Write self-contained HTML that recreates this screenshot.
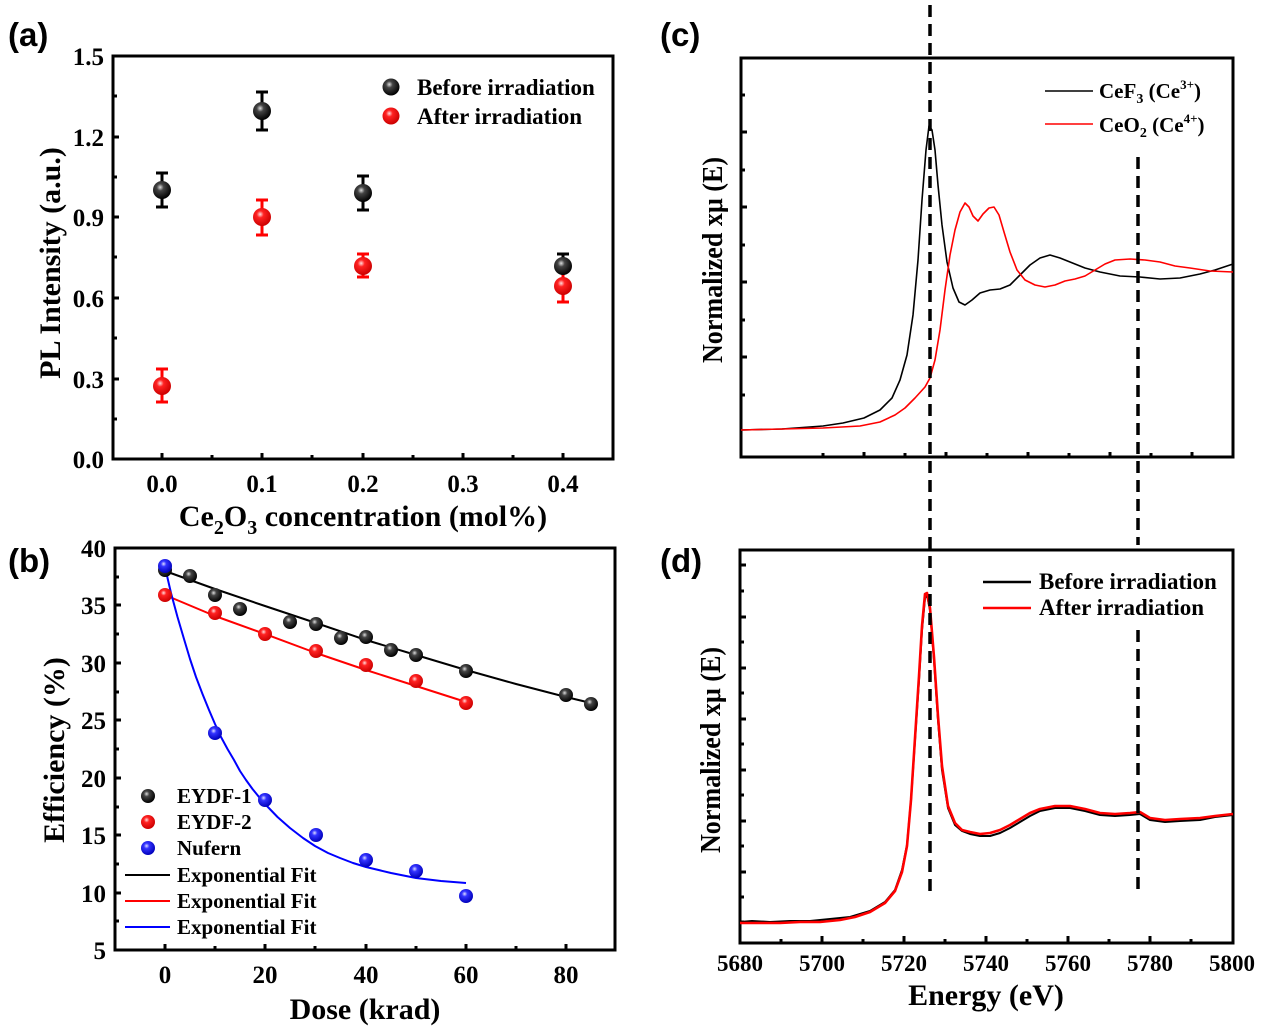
<!DOCTYPE html>
<html><head><meta charset="utf-8"><style>
html,body{margin:0;padding:0;background:#fff;}
svg{display:block;font-family:"Liberation Serif",serif;font-weight:bold;}
.pl{font-family:"Liberation Sans",sans-serif;font-size:33px;font-weight:bold;}
.tk{font-size:25px;}
.tt{font-size:30px;}
.lg{font-size:23px;}
.lgb{font-size:21px;}
</style></head><body>
<svg width="1270" height="1029" viewBox="0 0 1270 1029" xmlns="http://www.w3.org/2000/svg">
<defs>
<radialGradient id="gk" cx="0.4" cy="0.35" r="0.65"><stop offset="0" stop-color="#ddd"/><stop offset="0.3" stop-color="#444"/><stop offset="1" stop-color="#000"/></radialGradient>
<radialGradient id="gr" cx="0.4" cy="0.35" r="0.65"><stop offset="0" stop-color="#fdd"/><stop offset="0.3" stop-color="#f22"/><stop offset="1" stop-color="#c00"/></radialGradient>
<radialGradient id="gb" cx="0.4" cy="0.35" r="0.65"><stop offset="0" stop-color="#ddf"/><stop offset="0.3" stop-color="#33f"/><stop offset="1" stop-color="#00b"/></radialGradient>
</defs>

<text class="pl" x="8" y="46">(a)</text>
<text class="pl" x="8" y="572">(b)</text>
<text class="pl" x="660" y="46">(c)</text>
<text class="pl" x="660" y="572">(d)</text>

<!-- ===== Panel (a) ===== -->
<g stroke="#000" stroke-width="3" fill="none">
<rect x="113" y="56" width="500" height="403"/>
<path d="M113 56h6M113 137h6M113 217h6M113 298h6M113 379h6M113 459h6 M113 96h4M113 177h4M113 257h4M113 338h4M113 419h4"/>
<path d="M162 459v-6M262 459v-6M363 459v-6M463 459v-6M563 459v-6 M212 459v-4M312 459v-4M413 459v-4M513 459v-4"/>
</g>
<g class="tk" text-anchor="end">
<text x="104" y="65">1.5</text><text x="104" y="146">1.2</text><text x="104" y="226">0.9</text><text x="104" y="307">0.6</text><text x="104" y="388">0.3</text><text x="104" y="468">0.0</text>
</g>
<g class="tk" text-anchor="middle">
<text x="162" y="492">0.0</text><text x="262" y="492">0.1</text><text x="363" y="492">0.2</text><text x="463" y="492">0.3</text><text x="563" y="492">0.4</text>
</g>
<text class="tt" x="363" y="526" text-anchor="middle">Ce<tspan font-size="20" dy="8">2</tspan><tspan dy="-8">O</tspan><tspan font-size="20" dy="8">3</tspan><tspan dy="-8"> concentration (mol%)</tspan></text>
<text class="tt" transform="translate(60 263) rotate(-90)" text-anchor="middle">PL Intensity (a.u.)</text>
<g stroke="#000" stroke-width="3">
<path d="M162 173v34M156 173h12M156 207h12"/>
<path d="M262 92v38M256 92h12M256 130h12"/>
<path d="M363 176v34M357 176h12M357 210h12"/>
<path d="M563 254v22M557 254h12"/>
</g>
<g stroke="#f00" stroke-width="3">
<path d="M162 369v33M156 369h12M156 402h12"/>
<path d="M262 200v35M256 200h12M256 235h12"/>
<path d="M363 254v23M357 254h12M357 277h12"/>
<path d="M563 272v30M557 302h12"/>
</g>
<g>
<circle cx="162" cy="190" r="9" fill="url(#gk)"/>
<circle cx="262" cy="111" r="9" fill="url(#gk)"/>
<circle cx="363" cy="193" r="9" fill="url(#gk)"/>
<circle cx="563" cy="266" r="9" fill="url(#gk)"/>
<circle cx="162" cy="386" r="9" fill="url(#gr)"/>
<circle cx="262" cy="217" r="9" fill="url(#gr)"/>
<circle cx="363" cy="266" r="9" fill="url(#gr)"/>
<circle cx="563" cy="286" r="9" fill="url(#gr)"/>
<circle cx="391" cy="87" r="8.5" fill="url(#gk)"/>
<circle cx="391" cy="116" r="8.5" fill="url(#gr)"/>
</g>
<text class="lg" x="417" y="95">Before irradiation</text>
<text class="lg" x="417" y="124">After irradiation</text>

<!-- ===== Panel (b) ===== -->
<g stroke="#000" stroke-width="3" fill="none">
<rect x="115" y="548" width="500" height="402"/>
<path d="M115 548h6M115 605h6M115 663h6M115 720h6M115 778h6M115 835h6M115 893h6M115 950h6 M115 577h4M115 634h4M115 692h4M115 749h4M115 807h4M115 864h4M115 921h4"/>
<path d="M165 950v-6M265 950v-6M366 950v-6M466 950v-6M566 950v-6 M215 950v-4M315 950v-4M416 950v-4M516 950v-4"/>
</g>
<g class="tk" text-anchor="end">
<text x="106" y="557">40</text><text x="106" y="614">35</text><text x="106" y="672">30</text><text x="106" y="729">25</text><text x="106" y="787">20</text><text x="106" y="844">15</text><text x="106" y="902">10</text><text x="106" y="959">5</text>
</g>
<g class="tk" text-anchor="middle">
<text x="165" y="983">0</text><text x="265" y="983">20</text><text x="366" y="983">40</text><text x="466" y="983">60</text><text x="566" y="983">80</text>
</g>
<text class="tt" x="365" y="1019" text-anchor="middle">Dose (krad)</text>
<text class="tt" transform="translate(64 750) rotate(-90)" text-anchor="middle">Efficiency (%)</text>
<g fill="none" stroke-width="2" stroke-linejoin="round">
<polyline stroke="#000" points="165,571 215,589 265,606 316,623 366,640 416,655 466,670 516,684 566,697 591,703"/>
<polyline stroke="#f00" points="165,595 215,616 265,634 316,653 366,670 416,686 466,702"/>
<polyline stroke="#00f" points="165,567 171,593 177.5,617 184,639 190,659 196,677 202.5,694 209,710 215,724 221,737 227.5,749 234,760 240,771 246,780 252.5,789 259,797 265,804 277.5,817 290,828 303,838 315,846 328,853 340,858 353,863 366,867 391,873 416,878 441,881 466,883"/>
</g>
<g>
<circle cx="165" cy="570" r="7" fill="url(#gk)"/><circle cx="190" cy="576" r="7" fill="url(#gk)"/><circle cx="215" cy="595" r="7" fill="url(#gk)"/><circle cx="240" cy="609" r="7" fill="url(#gk)"/><circle cx="290" cy="622" r="7" fill="url(#gk)"/><circle cx="316" cy="624" r="7" fill="url(#gk)"/><circle cx="341" cy="638" r="7" fill="url(#gk)"/><circle cx="366" cy="637" r="7" fill="url(#gk)"/><circle cx="391" cy="650" r="7" fill="url(#gk)"/><circle cx="416" cy="655" r="7" fill="url(#gk)"/><circle cx="466" cy="671" r="7" fill="url(#gk)"/><circle cx="566" cy="695" r="7" fill="url(#gk)"/><circle cx="591" cy="704" r="7" fill="url(#gk)"/>
<circle cx="165" cy="595" r="7" fill="url(#gr)"/><circle cx="215" cy="613" r="7" fill="url(#gr)"/><circle cx="265" cy="634" r="7" fill="url(#gr)"/><circle cx="316" cy="651" r="7" fill="url(#gr)"/><circle cx="366" cy="665" r="7" fill="url(#gr)"/><circle cx="416" cy="681" r="7" fill="url(#gr)"/><circle cx="466" cy="703" r="7" fill="url(#gr)"/>
<circle cx="165" cy="566" r="7" fill="url(#gb)"/><circle cx="215" cy="733" r="7" fill="url(#gb)"/><circle cx="265" cy="800" r="7" fill="url(#gb)"/><circle cx="316" cy="835" r="7" fill="url(#gb)"/><circle cx="366" cy="860" r="7" fill="url(#gb)"/><circle cx="416" cy="871" r="7" fill="url(#gb)"/><circle cx="466" cy="896" r="7" fill="url(#gb)"/>
<circle cx="148" cy="796" r="7" fill="url(#gk)"/><circle cx="148" cy="822" r="7" fill="url(#gr)"/><circle cx="148" cy="848" r="7" fill="url(#gb)"/>
</g>
<g stroke-width="2"><path d="M125 875h45" stroke="#000"/><path d="M125 901h45" stroke="#f00"/><path d="M125 927h45" stroke="#00f"/></g>
<g class="lgb">
<text x="177" y="803">EYDF-1</text><text x="177" y="829">EYDF-2</text><text x="177" y="855">Nufern</text>
<text x="177" y="882">Exponential Fit</text><text x="177" y="908">Exponential Fit</text><text x="177" y="934">Exponential Fit</text>
</g>

<!-- ===== Panel (c) ===== -->
<g stroke="#000" stroke-width="3" fill="none">
<rect x="741" y="58" width="492" height="399"/>
<path d="M741 132h6M741 207h6M741 282h6M741 357h6M741 95h4M741 170h4M741 245h4M741 320h4M741 395h4"/>
<path d="M823 457v-4M864 457v-5M905 457v-4M946 457v-5M987 457v-4M1028 457v-5M1069 457v-4M1110 457v-5M1151 457v-4M1192 457v-5"/>
</g>
<text class="tt" style="font-size:29px" transform="translate(722 260) rotate(-90) scale(0.9 1)" text-anchor="middle">Normalized xμ (E)</text>
<g fill="none" stroke-width="1.6" stroke-linejoin="round">
<polyline stroke="#000" points="741,430 782,429 823,426 843,423 864,418 880,410 892,398 900,380 907,355 913,315 918,260 922,200 926,150 929,126 932,130 935,150 938,185 942,225 947,262 953,288 959,302 965,305 972,300 980,293 990,290 1000,289 1010,285 1020,275 1030,265 1040,258 1050,255 1060,258 1070,262 1085,268 1100,272 1120,276 1140,277 1160,279 1180,278 1200,274 1215,270 1233,264"/>
<polyline stroke="#f00" points="741,430 782,429 823,428 860,426 880,422 895,415 905,408 915,398 925,387 930,378 935,360 940,330 945,290 950,255 955,230 960,212 965,203 969,207 973,216 978,221 983,214 989,208 994,207 999,215 1004,232 1010,252 1017,270 1025,280 1035,285 1045,287 1055,285 1065,281 1075,279 1085,276 1095,270 1105,264 1115,260 1130,259 1145,260 1160,262 1175,266 1190,268 1210,271 1233,272"/>
</g>
<g stroke-width="1.6"><path d="M1045 91h48" stroke="#000"/><path d="M1045 124h48" stroke="#f00"/></g>
<text class="lg" style="font-size:21px" x="1099" y="98">CeF<tspan font-size="14" dy="5">3</tspan><tspan dy="-5"> (Ce</tspan><tspan font-size="13" dy="-9">3+</tspan><tspan dy="9">)</tspan></text>
<text class="lg" style="font-size:21px" x="1099" y="132">CeO<tspan font-size="14" dy="5">2</tspan><tspan dy="-5"> (Ce</tspan><tspan font-size="13" dy="-9">4+</tspan><tspan dy="9">)</tspan></text>

<!-- ===== Panel (d) ===== -->
<g stroke="#000" stroke-width="3" fill="none">
<rect x="740" y="550" width="493" height="393"/>
<path d="M740 565h6M740 617h6M740 668h6M740 719h6M740 770h6M740 821h6M740 872h6M740 591h4M740 642h4M740 693h4M740 744h4M740 795h4M740 846h4M740 897h4M740 922h4"/>
<path d="M740 943v-7M822 943v-7M904 943v-7M986 943v-7M1068 943v-7M1150 943v-7M781 943v-4M863 943v-4M945 943v-4M1027 943v-4M1109 943v-4M1191 943v-4"/>
</g>
<g class="tk" text-anchor="middle" style="font-size:23px">
<text x="740" y="971">5680</text><text x="822" y="971">5700</text><text x="904" y="971">5720</text><text x="986" y="971">5740</text><text x="1068" y="971">5760</text><text x="1150" y="971">5780</text><text x="1232" y="971">5800</text>
</g>
<text class="tt" x="986" y="1005" text-anchor="middle">Energy (eV)</text>
<text class="tt" style="font-size:29px" transform="translate(720 750) rotate(-90) scale(0.9 1)" text-anchor="middle">Normalized xμ (E)</text>
<g fill="none" stroke-linejoin="round">
<polyline stroke="#000" stroke-width="2" points="740,922 752,921 770,922 790,921 810,921 830,919 850,917 870,911 885,902 895,890 902,870 907,845 911,800 915,740 919,680 922,630 925,598 927,595 930,610 934,660 938,720 942,770 948,808 955,825 962,831 970,834 980,836 990,836 1000,833 1010,828 1020,822 1030,816 1040,811 1055,808 1070,808 1085,811 1100,815 1115,816 1130,815 1140,814 1150,820 1165,822 1180,821 1200,820 1215,817 1233,815"/>
<polyline stroke="#f00" stroke-width="2.6" points="740,923 760,923 780,923 800,922 820,922 840,920 855,917 870,912 885,903 895,891 902,872 907,846 911,800 915,738 919,676 922,626 925,594 927,593 930,608 934,657 938,716 942,766 948,806 955,823 962,830 970,832 980,834 990,833 1000,830 1010,825 1020,819 1030,813 1040,809 1055,806 1070,806 1085,809 1100,813 1115,814 1130,813 1140,812 1150,818 1165,820 1180,819 1200,818 1215,816 1233,814"/>
</g>
<g stroke-width="2.5"><path d="M983 582h48" stroke="#000"/><path d="M983 608h48" stroke="#f00"/></g>
<text class="lg" x="1039" y="589">Before irradiation</text>
<text class="lg" x="1039" y="615">After irradiation</text>

<g stroke="#000" stroke-width="3.5" stroke-dasharray="12 7" fill="none">
<path d="M930 5V893"/>
<path d="M1138 157V545"/>
<path d="M1138 630V895"/>
</g>
</svg>
</body></html>
